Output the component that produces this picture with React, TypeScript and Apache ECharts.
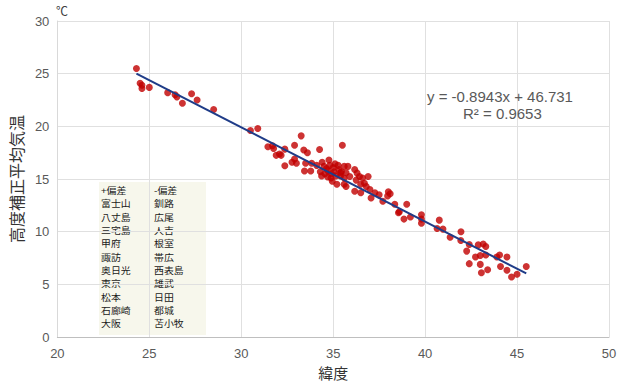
import React, { useEffect, useRef } from "react";
import * as echarts from "echarts";

const latitudes: number[] = [
  24.3, 24.5, 24.6, 24.6, 25.0, 26.0, 26.4, 26.5, 26.8, 27.3, 27.6, 28.5,
  30.5, 30.9, 31.45, 31.7, 31.76, 31.9, 32.08, 32.17, 32.37, 32.37, 32.9, 33.26,
  32.76, 32.9, 33.0, 33.4, 33.6, 33.5, 33.44, 33.78, 33.83, 34.26, 34.1, 34.3,
  34.37, 34.77, 34.82, 34.64, 35.1, 35.2, 34.88, 34.55, 35.05, 35.45, 35.6, 35.7,
  34.5, 34.7, 34.9, 35.0, 35.3, 35.4, 34.4, 34.95, 35.15, 34.7,
  35.5, 35.27, 35.6, 35.8, 35.4, 35.7, 35.9, 35.6, 36.17, 36.3, 36.43, 36.25,
  36.6, 36.9, 36.7, 36.5, 36.8, 37.0, 36.17, 36.5, 37.27, 37.5, 37.06, 37.7,
  37.96, 38.1, 38.35, 39.0, 38.6,
  38.0, 38.55, 38.85, 39.2, 39.8, 39.8, 39.8, 40.65, 40.77, 40.97, 41.36, 41.95,
  41.94, 42.26, 42.4, 42.4, 42.74, 42.89, 43.16, 43.3, 43.0, 43.0, 43.06, 43.4,
  43.3, 43.9, 44.05, 44.45, 44.1, 44.45, 44.7, 45.0, 45.5,
];

const temperatures: number[] = [
  25.5, 24.1, 23.9, 23.6, 23.7, 23.2, 23.0, 22.8, 22.2, 23.1, 22.5, 21.6,
  19.6, 19.8, 18.07, 18.16, 17.9, 17.25, 17.37, 17.25, 17.84, 16.26, 18.2, 19.1,
  16.6, 16.9, 16.5, 17.75, 17.5, 16.5, 15.77, 15.77, 16.5, 17.8, 16.3, 15.7,
  15.3, 16.8, 16.3, 16.0, 16.45, 14.5, 15.1, 15.5, 15.7, 15.7, 15.1, 14.3,
  16.2, 15.8, 15.5, 16.1, 15.9, 15.3, 16.6, 14.8, 15.3, 15.2,
  18.2, 16.3, 16.2, 16.2, 15.6, 15.6, 15.25, 14.5, 15.9, 15.56, 15.25, 14.9,
  15.1, 15.25, 14.6, 14.5, 14.3, 14.0, 13.85, 13.7, 13.7, 13.5, 13.2, 12.9,
  13.4, 13.6, 12.6, 12.6, 11.9,
  13.8, 11.8, 11.2, 11.4, 11.6, 11.2, 10.8, 10.3, 11.1, 10.25, 9.47, 10.0,
  9.16, 8.16, 8.78, 6.97, 7.6, 8.75, 8.84, 8.6, 7.75, 6.9, 6.1, 6.4,
  7.8, 7.6, 7.8, 7.6, 6.7, 6.34, 5.7, 5.97, 6.7,
];

const trendSlope = -0.8943;
const trendIntercept = 46.731;
const rSquared = 0.9653;

const xTicks = { min: 20, max: 50, interval: 5 };
const yTicks = { min: 0, max: 30, interval: 5 };

const tableHeader: string[] = ["+偏差", "-偏差"];
const plusDeviation: string[] = ["富士山", "八丈島", "三宅島", "甲府", "諏訪", "奥日光", "東京", "松本", "石廊崎", "大阪"];
const minusDeviation: string[] = ["釧路", "広尾", "人吉", "根室", "帯広", "西表島", "雄武", "日田", "都城", "苫小牧"];

export default function App() {
  const ref = useRef<HTMLDivElement>(null);

  useEffect(() => {
    document.body.style.margin = "0";
    if (!ref.current) return;
    const chart = echarts.init(ref.current, undefined, { renderer: "svg" });

    const points = latitudes.map((x, i) => [x, temperatures[i]]);
    const xMin = Math.min(...latitudes);
    const xMax = Math.max(...latitudes);
    const trend = [
      [xMin, trendSlope * xMin + trendIntercept],
      [xMax, trendSlope * xMax + trendIntercept],
    ];

    const font = "'Liberation Sans', Arial, 'Noto Sans CJK JP', sans-serif";
    const jpFont = "'Noto Sans CJK JP', sans-serif";

    const rows = [tableHeader, ...plusDeviation.map((p, i) => [p, minusDeviation[i]])];
    const tableChildren: any[] = [
      {
        type: "rect",
        shape: { x: 0, y: 0, width: 107, height: 153 },
        style: { fill: "#f7f7ec" },
      },
    ];
    rows.forEach((r, i) => {
      [0, 1].forEach((c) => {
        tableChildren.push({
          type: "text",
          x: c === 0 ? 2 : 55,
          y: 8 + i * 13.35,
          scaleX: 1.1,
          style: {
            text: r[c],
            font: `9px ${jpFont}`,
            lineHeight: 10,
            fill: "#1a1a1a",
            verticalAlign: "middle",
          },
        });
      });
    });

    chart.setOption({
      animation: false,
      backgroundColor: "#ffffff",
      grid: { left: 51, right: 16, top: 21, bottom: 44 },
      xAxis: {
        type: "value",
        min: xTicks.min,
        max: xTicks.max,
        interval: xTicks.interval,
        name: "緯度",
        nameLocation: "middle",
        nameGap: 23,
        nameTextStyle: { fontSize: 15, color: "#333", fontFamily: jpFont },
        axisLine: { show: true, lineStyle: { color: "#bfbfbf" } },
        axisTick: { show: false },
        axisLabel: { color: "#595959", fontSize: 13, fontFamily: font, margin: 10 },
        splitLine: { show: true, lineStyle: { color: "#e0e0e0" } },
      },
      yAxis: {
        type: "value",
        min: yTicks.min,
        max: yTicks.max,
        interval: yTicks.interval,
        name: "高度補正平均気温",
        nameLocation: "middle",
        nameGap: 29,
        nameRotate: 90,
        nameTextStyle: { fontSize: 16, color: "#333", fontFamily: jpFont },
        axisLine: { show: true, lineStyle: { color: "#d9d9d9" } },
        axisTick: { show: false },
        axisLabel: { color: "#595959", fontSize: 13, fontFamily: font, margin: 8 },
        splitLine: { show: true, lineStyle: { color: "#e0e0e0" } },
      },
      graphic: [
        {
          type: "text",
          left: 56,
          top: 4,
          style: { text: "℃", font: `12px ${jpFont}`, fill: "#404040" },
        },
        {
          type: "group",
          x: 99,
          y: 182,
          z: 10,
          children: tableChildren,
        },
        {
          type: "text",
          x: 427,
          y: 96,
          z: 10,
          style: {
            text: `y = ${trendSlope}x + ${trendIntercept}`,
            font: `15px ${font}`,
            fill: "#595959",
            verticalAlign: "middle",
          },
        },
        {
          type: "text",
          x: 463,
          y: 113,
          z: 10,
          style: {
            text: `R² = ${rSquared}`,
            font: `15px ${font}`,
            fill: "#595959",
            verticalAlign: "middle",
          },
        },
      ],
      series: [
        {
          type: "scatter",
          data: points,
          symbolSize: 7,
          itemStyle: { color: "#c00000" },
          z: 2,
        },
        {
          type: "line",
          data: trend,
          symbol: "none",
          lineStyle: { color: "#1f3c88", width: 2 },
          z: 3,
        },
      ],
    });

    return () => chart.dispose();
  }, []);

  return <div ref={ref} style={{ width: 625, height: 385 }} />;
}
